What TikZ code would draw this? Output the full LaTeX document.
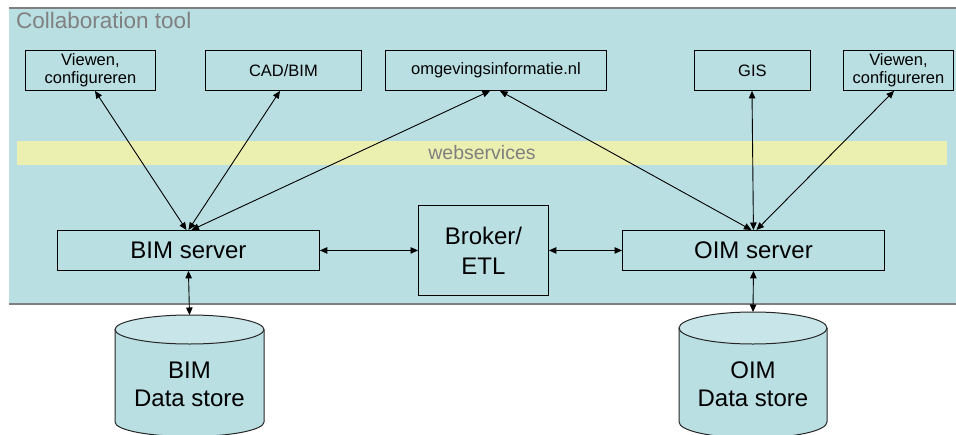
\documentclass[tikz,border=0pt]{standalone}
\usepackage{fontspec}
\setmainfont{Liberation Sans}
\usetikzlibrary{arrows.meta,calc}
\definecolor{panel}{HTML}{B9DFE3}
\definecolor{band}{HTML}{EBF0B0}
\definecolor{capfill}{HTML}{C8E6EA}
\definecolor{labelgray}{HTML}{808080}
\definecolor{rulegray}{HTML}{7F7F7F}

\begin{document}
\begin{tikzpicture}[x=1pt,y=-1pt,
  box/.style={draw=black, line width=0.9pt, inner sep=0pt, anchor=north west, align=center},
  small/.style={font=\fontsize{16.5}{18}\selectfont},
  big/.style={font=\fontsize{24}{28}\selectfont},
  link/.style={{Triangle[length=7.5pt,width=6.5pt]}-{Triangle[length=7.5pt,width=6.5pt]}, line width=0.9pt},
  storeline/.style={draw=black!85, line width=1pt}]
\useasboundingbox (0,0) rectangle (956,434);

% collaboration panel
\fill[panel] (9,8) rectangle (956,304);
\draw[rulegray, line width=1.2pt] (9,8) -- (956,8);
\draw[rulegray, line width=1.2pt] (9,304) -- (956,304);
\node[anchor=base west, text=labelgray, font=\fontsize{22.5}{24}\selectfont, inner sep=0pt] (title) at (16,28) {Collaboration tool};

% webservices band
\fill[band] (17,141) rectangle (947,165);
\node[text=labelgray, font=\fontsize{19.5}{21}\selectfont, inner sep=0pt] (ws) at (482,153) {webservices};

% client applications
\node[box, small, minimum width=130pt, minimum height=40pt] (viewl) at (25,50) {Viewen,\\configureren};
\node[box, small, minimum width=156pt, minimum height=40pt] (cad) at (205,50) {CAD/BIM};
\node[box, small, minimum width=221pt, minimum height=40pt] (omg) at (385,50) {omgevingsinformatie.nl};
\node[box, small, minimum width=116pt, minimum height=40pt] (gis) at (694,50) {GIS};
\node[box, small, minimum width=110pt, minimum height=40pt] (viewr) at (843,50) {Viewen,\\configureren};

% servers and broker
\node[box, big, minimum width=262pt, minimum height=40pt] (bims) at (57,230) {BIM server};
\node[box, big, minimum width=262pt, minimum height=40pt] (oims) at (622,230) {OIM server};
\node[box, font=\fontsize{24}{30}\selectfont, minimum width=130pt, minimum height=90pt] (broker) at (418,205) {Broker/\\ETL};

% data stores
\fill[panel] (115,329.5) -- (115,422) arc[start angle=180,end angle=0,x radius=74.5,y radius=14.5] -- (264,329.5) -- cycle;
\fill[capfill] (189.5,329.5) ellipse[x radius=74.5,y radius=14.5];
\draw[storeline] (115,329.5) -- (115,422) arc[start angle=180,end angle=0,x radius=74.5,y radius=14.5] -- (264,329.5);
\draw[storeline] (189.5,329.5) ellipse[x radius=74.5,y radius=14.5];
\node[big, align=center, inner sep=0pt] (bimds) at (189.5,384) {BIM\\Data store};
\coordinate (bimdstop) at (189.5,315);

\fill[panel] (679,328) -- (679,422) arc[start angle=180,end angle=0,x radius=74,y radius=16] -- (827,328) -- cycle;
\fill[capfill] (753,328) ellipse[x radius=74,y radius=16];
\draw[storeline] (679,328) -- (679,422) arc[start angle=180,end angle=0,x radius=74,y radius=16] -- (827,328);
\draw[storeline] (753,328) ellipse[x radius=74,y radius=16];
\node[big, align=center, inner sep=0pt] (oimds) at (753,384) {OIM\\Data store};
\coordinate (oimdstop) at (753,312);

% attachment points
\coordinate (b1) at ($(bims.north)+(-2,0)$);
\coordinate (b2) at ($(bims.north)+(0,0)$);
\coordinate (b3) at ($(bims.north)+(3,0)$);
\coordinate (o1) at ($(oims.north)+(-2,0)$);
\coordinate (o2) at ($(oims.north)+(0,0)$);
\coordinate (o3) at ($(oims.north)+(3,0)$);
\coordinate (vl) at (viewl.south -| 95,0);
\coordinate (cd) at (cad.south -| 280,0);
\coordinate (g1) at (omg.south -| 490,0);
\coordinate (g2) at (omg.south -| 500,0);
\coordinate (gs) at (gis.south -| 752,0);
\coordinate (vr) at (viewr.south -| 894,0);

% connectors
\draw[link] (b1) -- (vl);
\draw[link] (b2) -- (cd);
\draw[link] (b3) -- (g1);
\draw[link] (o1) -- (g2);
\draw[link] (o2) -- (gs);
\draw[link] (o3) -- (vr);
\draw[link] (bims.east) -- (broker.west);
\draw[link] (broker.east) -- (oims.west);
\draw[link] (bims.south) -- (bimdstop);
\draw[link] (oims.south) -- (oimdstop);
\end{tikzpicture}
\end{document}
